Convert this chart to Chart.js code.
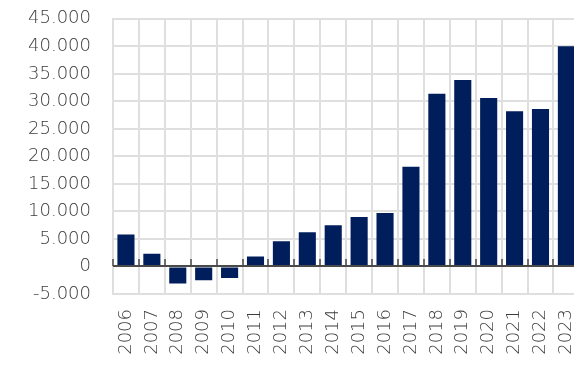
<!DOCTYPE html>
<html>
<head>
<meta charset="utf-8">
<script src="https://cdn.jsdelivr.net/npm/chart.js@4.4.0/dist/chart.umd.min.js"></script>
<style>
  html, body { margin: 0; padding: 0; background: #fff; overflow: hidden; }
  #wrap { position: absolute; left: 0; top: -14px; width: 603px; height: 380px; }
</style>
</head>
<body>
<div id="wrap"><canvas id="barChart"></canvas></div>
<script>
  // yearly values
  const years = ["2006", "2007", "2008", "2009", "2010", "2011", "2012", "2013", "2014",
    "2015", "2016", "2017", "2018", "2019", "2020", "2021", "2022", "2023"];
  const values = [5800, 2300, -3100, -2500, -2100, 1800, 4600, 6200, 7500,
    9000, 9700, 18100, 31400, 33900, 30600, 28200, 28600, 40000];
  const yTicks = [-5000, 0, 5000, 10000, 15000, 20000, 25000, 30000, 35000, 40000, 45000];

  const navy = "#001E5B";
  const gridColor = "#dfdfdf";
  const labelFont = { family: "DejaVu Sans", size: 18, weight: "300" };

  // thousands with a dot, like 45.000
  function fmt(v) {
    return String(Math.abs(v)).replace(/\B(?=(\d{3})+(?!\d))/g, ".").replace(/^/, v < 0 ? "-" : "");
  }

  // dark zero line with little ticks at the category boundaries
  const zeroLine = {
    id: "zeroLine",
    afterDatasetsDraw(chart) {
      const { ctx, chartArea, scales } = chart;
      const y0 = Math.round(scales.y.getPixelForValue(0));
      const x = scales.x;
      const step = x.getPixelForTick(1) - x.getPixelForTick(0);
      ctx.save();
      ctx.strokeStyle = "#4a4a4a";
      ctx.lineWidth = 2;
      ctx.beginPath();
      ctx.moveTo(chartArea.left, y0);
      ctx.lineTo(chartArea.right, y0);
      ctx.stroke();
      ctx.lineWidth = 1.5;
      ctx.beginPath();
      for (let i = 0; i <= years.length; i++) {
        const px = Math.round(x.getPixelForTick(0) - step / 2 + i * step);
        ctx.moveTo(px, y0);
        ctx.lineTo(px, y0 - 7);
      }
      ctx.stroke();
      ctx.restore();
    }
  };

  const ctx = document.getElementById("barChart").getContext("2d");
  new Chart(ctx, {
    type: "bar",
    data: {
      labels: years,
      datasets: [
        {
          data: values,
          backgroundColor: navy,
          barPercentage: 0.66,
          categoryPercentage: 1,
        },
      ],
    },
    options: {
      responsive: true,
      maintainAspectRatio: false,
      animation: false,
      layout: { padding: 0 },
      plugins: {
        legend: { display: false },
        tooltip: { enabled: false },
      },
      scales: {
        x: {
          grid: { color: gridColor, lineWidth: 2, offset: true, drawTicks: false },
          border: { color: gridColor, width: 2 },
          ticks: {
            minRotation: 90,
            maxRotation: 90,
            padding: 15,
            color: "#3c3c3c",
            font: labelFont,
          },
          afterFit(scale) { scale.height = 72; },
        },
        y: {
          min: -5000,
          max: 45000,
          afterBuildTicks(scale) { scale.ticks = yTicks.map((v) => ({ value: v })); },
          grid: { color: gridColor, lineWidth: 2, drawTicks: false },
          border: { color: gridColor, width: 2 },
          ticks: {
            padding: 22,
            color: "#3c3c3c",
            font: labelFont,
            callback: (v) => fmt(v),
          },
          afterFit(scale) { scale.width = 113; },
        },
      },
    },
    plugins: [zeroLine],
  });
</script>
</body>
</html>
